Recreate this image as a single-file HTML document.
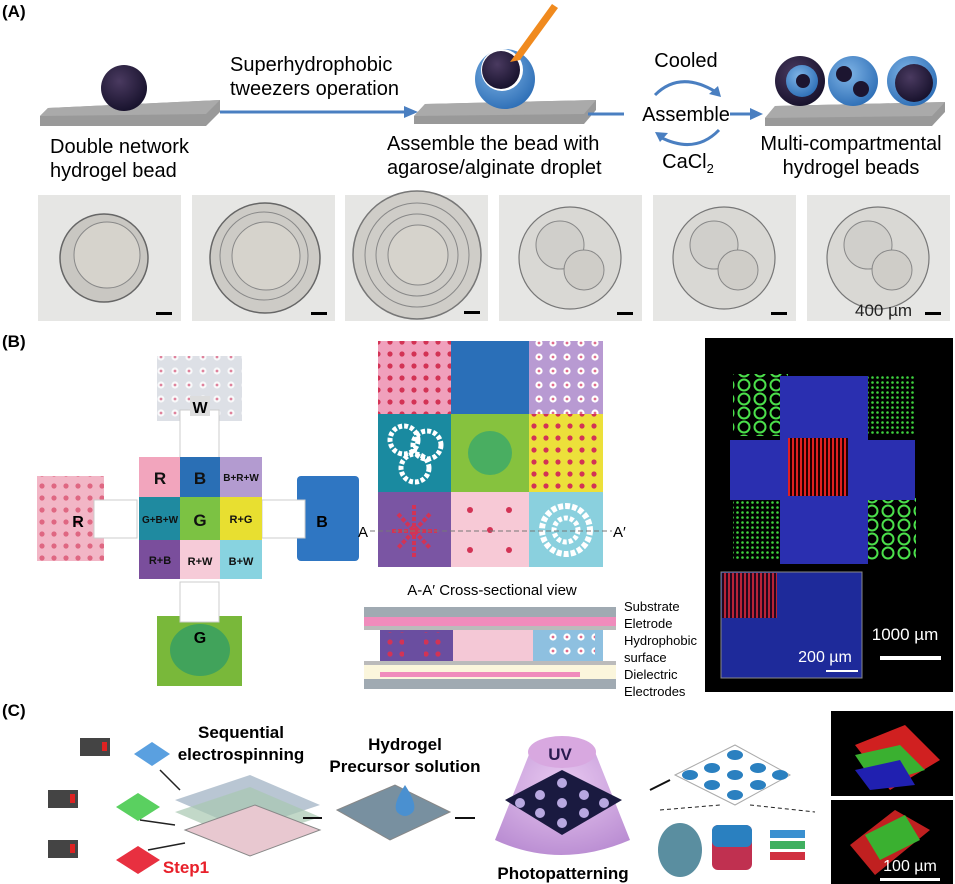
<!DOCTYPE html>
<html><head><meta charset="utf-8"><style>
html,body{margin:0;padding:0;background:#fff;}
svg{display:block;font-family:"Liberation Sans",sans-serif;}
</style></head><body>
<svg width="955" height="884" viewBox="0 0 955 884" xmlns="http://www.w3.org/2000/svg">
<defs>
<radialGradient id="dark" cx="0.4" cy="0.35" r="0.7"><stop offset="0" stop-color="#4a3a60"/><stop offset="1" stop-color="#15102a"/></radialGradient>
<radialGradient id="blue" cx="0.4" cy="0.35" r="0.7"><stop offset="0" stop-color="#7fb4e6"/><stop offset="1" stop-color="#2c6db5"/></radialGradient>
<radialGradient id="photo" cx="0.5" cy="0.5" r="0.5"><stop offset="0" stop-color="#e0ddd6"/><stop offset="0.9" stop-color="#d4d2cc"/><stop offset="1" stop-color="#a8a8a4"/></radialGradient>
<pattern id="rdots" width="12" height="12" patternUnits="userSpaceOnUse"><circle cx="6" cy="6" r="2.6" fill="#d33355"/></pattern>
<pattern id="wdots" width="14" height="14" patternUnits="userSpaceOnUse"><circle cx="7" cy="7" r="3.6" fill="#fff"/><circle cx="7" cy="7" r="1.4" fill="#e06a8a"/></pattern>
<pattern id="grid" width="5" height="5" patternUnits="userSpaceOnUse"><rect width="5" height="5" fill="#000"/><circle cx="2.5" cy="2.5" r="1.3" fill="#3ed23e"/></pattern>
<pattern id="hex" width="16" height="14" patternUnits="userSpaceOnUse"><rect width="16" height="14" fill="#000"/><circle cx="8" cy="7" r="5.5" fill="none" stroke="#4be04b" stroke-width="2"/></pattern>
<pattern id="redl" width="4" height="4" patternUnits="userSpaceOnUse"><rect width="4" height="4" fill="#200"/><rect width="2" height="4" fill="#e02020"/></pattern>
<linearGradient id="plate" x1="0" y1="0" x2="0" y2="1"><stop offset="0" stop-color="#aaa"/><stop offset="1" stop-color="#777"/></linearGradient>
<radialGradient id="cone" cx="0.5" cy="0.3" r="0.8"><stop offset="0" stop-color="#e8c8f0"/><stop offset="1" stop-color="#b688d0"/></radialGradient>
</defs>

<!-- (A) -->
<text x="2" y="17" font-size="17" font-weight="bold">(A)</text>
<polygon points="48,108 220,100 220,112 206,126 40,126 40,116" fill="#999"/>
<polygon points="48,108 220,100 206,114 40,116" fill="#aaa"/>
<circle cx="124" cy="88" r="23" fill="url(#dark)"/>
<text font-size="20" x="50" y="153">Double network</text>
<text font-size="20" x="50" y="177">hydrogel bead</text>
<text font-size="20" x="230" y="71">Superhydrophobic</text>
<text font-size="20" x="230" y="95">tweezers operation</text>
<line x1="220" y1="112" x2="406" y2="112" stroke="#4a7fc1" stroke-width="3"/>
<polygon points="418,112 404,106 404,118" fill="#4a7fc1"/>
<polygon points="425,104 596,100 596,110 584,124 414,124 414,116" fill="#999"/>
<polygon points="425,104 596,100 584,114 414,116" fill="#aaa"/>
<circle cx="505" cy="79" r="30" fill="url(#blue)"/>
<circle cx="502" cy="70" r="21" fill="#fff"/>
<circle cx="501" cy="70" r="19" fill="url(#dark)"/>
<polygon points="552,4 558,8 520,60 510,62" fill="#f08a1e"/>
<text font-size="20" x="387" y="150">Assemble the bead with</text>
<text font-size="20" x="387" y="174">agarose/alginate droplet</text>
<line x1="588" y1="114" x2="624" y2="114" stroke="#4a7fc1" stroke-width="3"/>
<text font-size="20" x="686" y="67" text-anchor="middle">Cooled</text>
<text font-size="20" x="686" y="121" text-anchor="middle">Assemble</text>
<text font-size="20" x="688" y="168" text-anchor="middle">CaCl<tspan font-size="13" dy="5">2</tspan></text>
<path d="M655,95 Q680,70 716,92" fill="none" stroke="#4a7fc1" stroke-width="3"/>
<polygon points="721,97 709,94 718,86" fill="#4a7fc1"/>
<path d="M719,130 Q695,155 660,137" fill="none" stroke="#4a7fc1" stroke-width="3"/>
<polygon points="655,132 668,133 660,142" fill="#4a7fc1"/>
<line x1="730" y1="114" x2="752" y2="114" stroke="#4a7fc1" stroke-width="3"/>
<polygon points="763,114 750,108 750,120" fill="#4a7fc1"/>
<polygon points="775,106 945,102 945,112 932,126 765,126 765,118" fill="#999"/>
<polygon points="775,106 945,102 932,116 765,118" fill="#aaa"/>
<circle cx="800" cy="81" r="25" fill="url(#dark)"/><circle cx="802" cy="81" r="16" fill="url(#blue)"/><circle cx="803" cy="81" r="7" fill="#1c1530"/>
<circle cx="853" cy="81" r="25" fill="url(#blue)"/><circle cx="844" cy="74" r="8" fill="#1c1530"/><circle cx="861" cy="89" r="8" fill="#1c1530"/>
<circle cx="912" cy="81" r="25" fill="url(#blue)"/><circle cx="914" cy="83" r="19" fill="url(#dark)"/>
<text font-size="20" x="851" y="150" text-anchor="middle">Multi-compartmental</text>
<text font-size="20" x="851" y="174" text-anchor="middle">hydrogel beads</text>

<!-- photos -->
<g>
<rect x="38" y="195" width="143" height="126" fill="#e6e6e4"/>
<circle cx="104" cy="258" r="44" fill="#c9c7c2" stroke="#666" stroke-width="1.5"/><circle cx="107" cy="255" r="33" fill="#d6d3cc" stroke="#888"/>
<rect x="156" y="312" width="16" height="3" fill="#000"/>
<rect x="192" y="195" width="143" height="126" fill="#e6e6e4"/>
<circle cx="265" cy="258" r="55" fill="#cdcbc6" stroke="#666" stroke-width="1.5"/><circle cx="264" cy="256" r="44" fill="none" stroke="#888"/><circle cx="266" cy="256" r="34" fill="#d6d3cc" stroke="#888"/>
<rect x="311" y="312" width="16" height="3" fill="#000"/>
<rect x="345" y="195" width="143" height="126" fill="#e6e6e4"/>
<circle cx="417" cy="255" r="64" fill="#cfcdc8" stroke="#777" stroke-width="1.5"/><circle cx="417" cy="255" r="52" fill="none" stroke="#888"/><circle cx="417" cy="255" r="41" fill="none" stroke="#888"/><circle cx="418" cy="255" r="30" fill="#d6d3cc" stroke="#888"/>
<rect x="464" y="311" width="16" height="3" fill="#000"/>
<g id="twin">
<rect x="499" y="195" width="143" height="126" fill="#e6e6e4"/>
<circle cx="570" cy="258" r="51" fill="#d9d8d4" stroke="#777" stroke-width="1.2"/><circle cx="560" cy="245" r="24" fill="#d0cfcb" stroke="#888"/><circle cx="584" cy="270" r="20" fill="#cfcdc8" stroke="#888"/>
<rect x="617" y="312" width="16" height="3" fill="#000"/>
</g>
<use href="#twin" x="154"/>
<use href="#twin" x="308"/>
<text x="855" y="316" font-size="17" fill="#222">400 µm</text>
</g>

<!-- (B) -->
<text x="2" y="347" font-size="17" font-weight="bold">(B)</text>
<!-- W pad -->
<rect x="157" y="356" width="85" height="65" fill="#dde0e6"/>
<rect x="157" y="356" width="85" height="65" fill="url(#wdots)" opacity="0.8"/>
<rect x="180" y="410" width="39" height="59" fill="#fff" stroke="#ccc"/>
<rect x="190" y="396" width="20" height="20" fill="#ddd"/>
<text x="200" y="413" font-size="16" font-weight="bold" text-anchor="middle">W</text>
<!-- R pad -->
<rect x="37" y="476" width="67" height="85" fill="#f2b6c6"/>
<rect x="37" y="476" width="67" height="85" fill="url(#rdots)" opacity="0.6"/>
<rect x="94" y="500" width="43" height="38" fill="#fff" stroke="#ccc"/>
<text x="78" y="527" font-size="16" font-weight="bold" text-anchor="middle">R</text>
<!-- B pad -->
<rect x="297" y="476" width="62" height="85" rx="4" fill="#2f76c2"/>
<rect x="262" y="500" width="43" height="38" fill="#fff" stroke="#ccc"/>
<text x="322" y="527" font-size="16" font-weight="bold" text-anchor="middle">B</text>
<!-- G pad -->
<rect x="157" y="616" width="85" height="70" fill="#79b83a"/>
<ellipse cx="200" cy="650" rx="30" ry="26" fill="#2a9a6a" opacity="0.7"/>
<rect x="180" y="582" width="39" height="40" fill="#fff" stroke="#ccc"/>
<text x="200" y="643" font-size="16" font-weight="bold" text-anchor="middle">G</text>
<!-- 3x3 grid -->
<rect x="139" y="457" width="41" height="40" fill="#f2a5bd"/>
<rect x="180" y="457" width="40" height="40" fill="#2a6fb5"/>
<rect x="220" y="457" width="42" height="40" fill="#b39bd0"/>
<rect x="139" y="497" width="41" height="43" fill="#1f8aa0"/>
<rect x="180" y="497" width="40" height="43" fill="#7cc243"/>
<rect x="220" y="497" width="42" height="43" fill="#e8df30"/>
<rect x="139" y="540" width="41" height="39" fill="#7a4e9c"/>
<rect x="180" y="540" width="40" height="39" fill="#f6cbd8"/>
<rect x="220" y="540" width="42" height="39" fill="#88d3e0"/>
<g font-weight="bold" text-anchor="middle" fill="#111">
<text x="160" y="484" font-size="17">R</text><text x="200" y="484" font-size="17">B</text><text x="241" y="481" font-size="10">B+R+W</text>
<text x="160" y="523" font-size="10">G+B+W</text><text x="200" y="526" font-size="17">G</text><text x="241" y="523" font-size="11">R+G</text>
<text x="160" y="564" font-size="11">R+B</text><text x="200" y="565" font-size="11">R+W</text><text x="241" y="565" font-size="11">B+W</text>
</g>
<!-- middle grid -->
<g>
<rect x="378" y="341" width="225" height="226" rx="8" fill="#ccc"/>
<rect x="378" y="341" width="73" height="73" fill="#f0a0bc"/><rect x="378" y="341" width="73" height="73" fill="url(#rdots)"/>
<rect x="451" y="341" width="78" height="73" fill="#2a6fb8"/>
<rect x="529" y="341" width="74" height="73" fill="#b89ad2"/><rect x="529" y="341" width="74" height="73" fill="url(#wdots)"/>
<rect x="378" y="414" width="73" height="78" fill="#1a8aa0"/>
<circle cx="404" cy="440" r="14" fill="none" stroke="#fff" stroke-width="5" stroke-dasharray="4 2"/><circle cx="427" cy="445" r="14" fill="none" stroke="#fff" stroke-width="5" stroke-dasharray="4 2"/><circle cx="415" cy="468" r="14" fill="none" stroke="#fff" stroke-width="5" stroke-dasharray="4 2"/>
<rect x="451" y="414" width="78" height="78" fill="#86c23e"/><circle cx="490" cy="453" r="22" fill="#22a07a" opacity="0.6"/>
<rect x="529" y="414" width="74" height="78" fill="#ece03a"/><rect x="529" y="414" width="74" height="78" fill="url(#rdots)"/>
<rect x="378" y="492" width="73" height="75" fill="#7a55a3"/>
<g stroke="#d33355" stroke-width="4" stroke-dasharray="4 2"><line x1="392" y1="531" x2="437" y2="531"/><line x1="414" y1="505" x2="414" y2="557"/><line x1="398" y1="514" x2="430" y2="548"/><line x1="430" y1="514" x2="398" y2="548"/></g>
<rect x="451" y="492" width="78" height="75" fill="#f7c9d6"/>
<rect x="529" y="492" width="74" height="75" fill="#8ad0de"/>
<circle cx="566" cy="530" r="24" fill="none" stroke="#fff" stroke-width="6" stroke-dasharray="5 2"/><circle cx="566" cy="530" r="12" fill="none" stroke="#fff" stroke-width="5" stroke-dasharray="4 2"/>
<circle cx="470" cy="510" r="3" fill="#d33355"/><circle cx="509" cy="510" r="3" fill="#d33355"/><circle cx="490" cy="530" r="3" fill="#d33355"/><circle cx="470" cy="550" r="3" fill="#d33355"/><circle cx="509" cy="550" r="3" fill="#d33355"/>
<line x1="370" y1="531" x2="612" y2="531" stroke="#777" stroke-dasharray="5 3"/>
</g>
<text x="358" y="537" font-size="15">A</text>
<text x="613" y="537" font-size="15">A′</text>
<text x="492" y="595" font-size="15" text-anchor="middle">A-A′ Cross-sectional view</text>
<!-- cross section -->
<rect x="364" y="607" width="252" height="10" fill="#a0aab2"/>
<rect x="364" y="617" width="252" height="9" fill="#f08cbc"/>
<rect x="364" y="626" width="252" height="4" fill="#bbb"/>
<rect x="380" y="630" width="73" height="31" fill="#6a4ea0"/>
<rect x="453" y="630" width="80" height="31" fill="#f4c8d6"/>
<rect x="533" y="630" width="70" height="31" fill="#8ec0e0"/>
<rect x="384" y="632" width="20" height="27" fill="url(#rdots)"/><rect x="424" y="632" width="20" height="27" fill="url(#rdots)"/>
<rect x="545" y="632" width="50" height="27" fill="url(#wdots)"/>
<rect x="364" y="661" width="252" height="4" fill="#bbb"/>
<rect x="364" y="665" width="252" height="14" fill="#fbf6dc"/>
<rect x="380" y="672" width="200" height="5" fill="#f08cbc"/>
<rect x="364" y="679" width="252" height="10" fill="#a0aab2"/>
<g font-size="13"><text x="624" y="611">Substrate</text><text x="624" y="628">Eletrode</text><text x="624" y="645">Hydrophobic</text><text x="624" y="662">surface</text><text x="624" y="679">Dielectric</text><text x="624" y="696">Electrodes</text></g>
<!-- fluorescence -->
<rect x="705" y="338" width="248" height="354" fill="#000"/>
<rect x="733" y="374" width="55" height="62" fill="url(#hex)"/>
<rect x="863" y="374" width="53" height="62" fill="url(#grid)"/>
<rect x="733" y="498" width="55" height="62" fill="url(#grid)"/>
<rect x="863" y="498" width="53" height="62" fill="url(#hex)"/>
<rect x="780" y="376" width="88" height="188" fill="#2a2fb0"/>
<rect x="730" y="440" width="185" height="60" fill="#2a2fb0"/>
<rect x="788" y="438" width="60" height="58" fill="url(#redl)"/>
<rect x="721" y="572" width="141" height="106" fill="#1e2a9a" stroke="#888"/>
<rect x="722" y="573" width="55" height="45" fill="url(#redl)" opacity="0.8"/>
<text x="905" y="640" font-size="17" fill="#fff" text-anchor="middle">1000 µm</text>
<rect x="880" y="656" width="61" height="4" fill="#fff"/>
<text x="825" y="662" font-size="16" fill="#fff" text-anchor="middle">200 µm</text>
<rect x="826" y="670" width="32" height="2" fill="#fff"/>

<!-- (C) -->
<text x="2" y="716" font-size="17" font-weight="bold">(C)</text>
<g id="dev"><rect x="80" y="738" width="30" height="18" fill="#444"/><rect x="102" y="742" width="5" height="9" fill="#d22"/></g>
<use href="#dev" y="0"/><use href="#dev" x="-32" y="52"/><use href="#dev" x="-32" y="102"/>
<polygon points="134,754 152,742 170,754 152,766" fill="#5aa0e0"/>
<polygon points="116,807 138,793 160,807 138,821" fill="#5ad060"/>
<polygon points="116,860 138,846 160,860 138,874" fill="#e83040"/>
<text x="241" y="738" font-size="17" font-weight="bold" text-anchor="middle">Sequential</text>
<text x="241" y="760" font-size="17" font-weight="bold" text-anchor="middle">electrospinning</text>
<polygon points="175,800 250,775 320,805 245,830" fill="#a8b8c8" opacity="0.8"/>
<polygon points="175,812 250,787 320,817 245,842" fill="#a8c8b0" opacity="0.7"/>
<polygon points="185,830 255,805 320,830 250,856" fill="#e8c8d0" stroke="#888"/>
<line x1="160" y1="770" x2="180" y2="790" stroke="#222" stroke-width="1.5"/>
<line x1="140" y1="820" x2="175" y2="825" stroke="#222" stroke-width="1.5"/>
<line x1="148" y1="850" x2="185" y2="843" stroke="#222" stroke-width="1.5"/>
<text x="186" y="873" font-size="17" font-weight="bold" fill="#e8202a" text-anchor="middle">Step1</text>
<text x="405" y="750" font-size="17" font-weight="bold" text-anchor="middle">Hydrogel</text>
<text x="405" y="772" font-size="17" font-weight="bold" text-anchor="middle">Precursor solution</text>
<line x1="303" y1="818" x2="322" y2="818" stroke="#111" stroke-width="2"/>
<polygon points="337,810 395,785 450,812 390,840" fill="#7890a0" stroke="#888"/>
<path d="M405,785 Q392,805 397,812 Q405,820 413,812 Q418,805 405,785Z" fill="#4a90d0"/>
<line x1="455" y1="818" x2="475" y2="818" stroke="#111" stroke-width="2"/>
<path d="M530,752 L495,840 Q560,870 630,840 L595,752Z" fill="url(#cone)"/>
<ellipse cx="562" cy="752" rx="34" ry="16" fill="#d8a8e0"/>
<text x="560" y="760" font-size="17" font-weight="bold" fill="#2a1a50" text-anchor="middle">UV</text>
<polygon points="505,800 562,770 622,800 562,835" fill="#1a1a40"/>
<g fill="#b8a8e0"><circle cx="562" cy="783" r="5"/><circle cx="540" cy="795" r="5"/><circle cx="584" cy="795" r="5"/><circle cx="562" cy="803" r="5"/><circle cx="520" cy="803" r="5"/><circle cx="604" cy="803" r="5"/><circle cx="540" cy="813" r="5"/><circle cx="584" cy="813" r="5"/><circle cx="562" cy="823" r="5"/></g>
<text x="563" y="879" font-size="17" font-weight="bold" text-anchor="middle">Photopatterning</text>
<line x1="650" y1="790" x2="670" y2="780" stroke="#111" stroke-width="2"/>
<polygon points="675,775 735,745 790,775 735,805" fill="#fff" stroke="#aaa"/>
<g fill="#2a80c0"><ellipse cx="735" cy="755" rx="8" ry="5"/><ellipse cx="712" cy="768" rx="8" ry="5"/><ellipse cx="758" cy="768" rx="8" ry="5"/><ellipse cx="735" cy="775" rx="8" ry="5"/><ellipse cx="690" cy="775" rx="8" ry="5"/><ellipse cx="780" cy="775" rx="8" ry="5"/><ellipse cx="712" cy="785" rx="8" ry="5"/><ellipse cx="758" cy="785" rx="8" ry="5"/><ellipse cx="735" cy="795" rx="8" ry="5"/></g>
<line x1="660" y1="810" x2="720" y2="805" stroke="#222" stroke-dasharray="4 3"/>
<line x1="750" y1="805" x2="815" y2="812" stroke="#222" stroke-dasharray="4 3"/>
<ellipse cx="680" cy="850" rx="22" ry="27" fill="#5a8ea0"/>
<rect x="712" y="825" width="40" height="45" rx="6" fill="#c03050"/>
<rect x="712" y="825" width="40" height="22" rx="6" fill="#2a80c0"/>
<rect x="770" y="830" width="35" height="8" fill="#3a90d0"/><rect x="770" y="841" width="35" height="8" fill="#40b060"/><rect x="770" y="852" width="35" height="8" fill="#d03040"/>
<rect x="831" y="711" width="122" height="85" fill="#000"/>
<polygon points="855,745 905,725 940,760 890,790" fill="#d02020"/>
<polygon points="855,755 900,745 925,770 875,785" fill="#3ab030"/>
<polygon points="855,770 900,760 915,785 870,790" fill="#2020b0"/>
<rect x="831" y="800" width="122" height="84" fill="#000"/>
<polygon points="850,845 895,810 930,830 875,875" fill="#c02020"/>
<polygon points="865,835 905,815 920,840 880,860" fill="#3ab030"/>
<text x="910" y="871" font-size="16" fill="#fff" text-anchor="middle">100 µm</text>
<rect x="880" y="878" width="60" height="3" fill="#fff"/>
</svg>
</body></html>
